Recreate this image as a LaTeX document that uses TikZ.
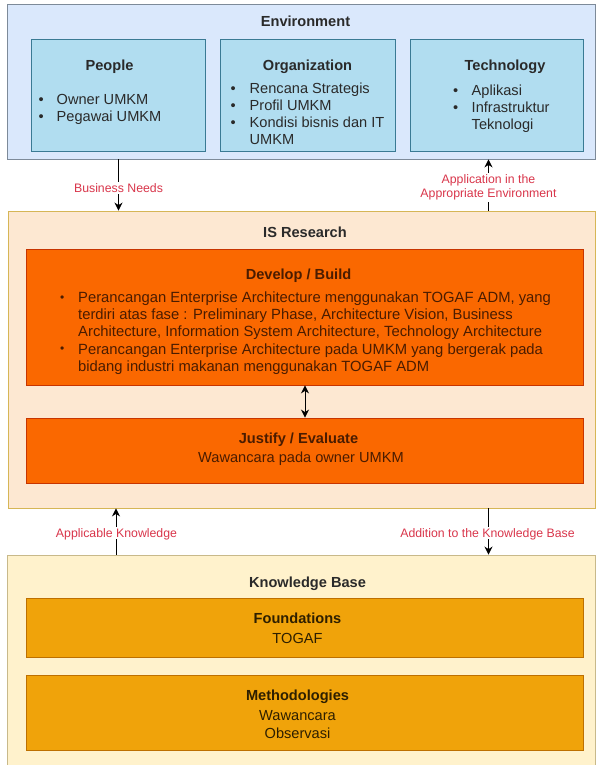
\documentclass[tikz,border=0pt]{standalone}
\usepackage{fontspec}
\setmainfont{Liberation Sans}
\usetikzlibrary{arrows.meta}
\definecolor{envfill}{HTML}{DAE8FC}
\definecolor{envdraw}{HTML}{7D8A99}
\definecolor{subfill}{HTML}{B1DDF0}
\definecolor{subdraw}{HTML}{3A7A94}
\definecolor{isfill}{HTML}{FDE8D2}
\definecolor{isdraw}{HTML}{D6B656}
\definecolor{devfill}{HTML}{FA6800}
\definecolor{devdraw}{HTML}{C73500}
\definecolor{devtext}{HTML}{4A1C00}
\definecolor{kbfill}{HTML}{FFF2CC}
\definecolor{kbdraw}{HTML}{C8B98A}
\definecolor{fndfill}{HTML}{F0A30A}
\definecolor{fnddraw}{HTML}{BD7000}
\definecolor{fndtext}{HTML}{2E1F00}
\definecolor{lblred}{HTML}{D9364B}
\definecolor{bodytext}{HTML}{2A2A2A}
\newcommand\bodyfont{\fontsize{14.6}{17}\selectfont}
\newcommand\devbul{\makebox[18pt][l]{\raisebox{1.2pt}{\fontsize{12}{12}\selectfont •}}}
\begin{document}
\begin{tikzpicture}[x=1pt,y=-1pt,
  box/.style={draw, line width=0.9pt, inner sep=0pt, rectangle},
  envbox/.style={box, fill=envfill, draw=envdraw},
  subbox/.style={box, fill=subfill, draw=subdraw},
  isbox/.style={box, fill=isfill, draw=isdraw},
  devbox/.style={box, fill=devfill, draw=devdraw},
  kbbox/.style={box, fill=kbfill, draw=kbdraw},
  fndbox/.style={box, fill=fndfill, draw=fnddraw},
  ttl/.style={inner sep=0pt, font=\bfseries\bodyfont, text height=10.5pt, text depth=0pt},
  txt/.style={inner sep=0pt, font=\bodyfont, text height=10.5pt, text depth=0pt},
  lst/.style={inner sep=0pt, font=\bodyfont, align=left, anchor=north west, text=bodytext},
  lbl/.style={inner sep=1.5pt, fill=white, text=lblred, font=\fontsize{12.3}{14}\selectfont},
  arr/.style={draw=black, line width=0.9pt, -{Stealth[length=8pt,width=8pt]}},
  arrtwo/.style={draw=black, line width=0.9pt, {Stealth[length=8pt,width=8pt]}-{Stealth[length=8pt,width=8pt]}}
]
\useasboundingbox (0,0) rectangle (596,765);
\fill[white] (0,0) rectangle (596,765);

% Environment
\node[envbox, minimum width=588pt, minimum height=155pt] (env) at (301,81.5) {};
\node[subbox, minimum width=173.5pt, minimum height=112pt] (people) at (118.25,95) {};
\node[subbox, minimum width=175pt, minimum height=112pt] (org) at (307.5,95) {};
\node[subbox, minimum width=173pt, minimum height=112pt] (tech) at (496.5,95) {};
\node[ttl, text=bodytext] (envt) at (305.5,21.5) {Environment};
\node[ttl, text=bodytext] (peot) at (109.5,65) {People};
\node[ttl, text=bodytext] (orgt) at (307.5,65) {Organization};
\node[ttl, text=bodytext] (techt) at (505,65) {Technology};
\node[lst] (peol) at (38.5,93.8) {\makebox[18pt][l]{•}Owner UMKM\\\makebox[18pt][l]{•}Pegawai UMKM};
\node[lst] (orgl) at (230.5,82.6) {\makebox[19pt][l]{•}Rencana Strategis\\\makebox[19pt][l]{•}Profil UMKM\\\makebox[19pt][l]{•}Kondisi bisnis dan IT\\\hspace*{19pt}UMKM};
\node[lst] (techl) at (453,84.6) {\makebox[18.5pt][l]{•}Aplikasi\\\makebox[18.5pt][l]{•}Infrastruktur\\\hspace*{18.5pt}Teknologi};

% IS Research
\node[isbox, minimum width=587pt, minimum height=297pt] (isr) at (301.5,359.5) {};
\node[devbox, minimum width=557pt, minimum height=136pt] (dev) at (304.5,317) {};
\node[devbox, minimum width=557pt, minimum height=65pt] (jus) at (304.5,450.5) {};
\node[ttl, text=bodytext] (isrt) at (305,232) {IS Research};
\node[ttl, text=devtext] (devt) at (298.5,274) {Develop / Build};
\node[lst, text=devtext, font=\fontsize{14.8}{17.2}\selectfont] (devl) at (60,291.6) {\devbul Perancangan Enterprise Architecture menggunakan TOGAF ADM, yang\\\hspace*{18pt}terdiri atas fase : Preliminary Phase, Architecture Vision, Business\\\hspace*{18pt}Architecture, Information System Architecture, Technology Architecture\\\devbul Perancangan Enterprise Architecture pada UMKM yang bergerak pada\\\hspace*{18pt}bidang industri makanan menggunakan TOGAF ADM};
\node[ttl, text=devtext] (just) at (298.5,438) {Justify / Evaluate};
\node[txt, text=devtext] (jusl) at (301,457.5) {Wawancara pada owner UMKM};

% Knowledge Base
\node[kbbox, minimum width=588pt, minimum height=215pt] (kb) at (301,662.5) {};
\node[fndbox, minimum width=557pt, minimum height=59pt] (fnd) at (304.5,627.5) {};
\node[fndbox, minimum width=557pt, minimum height=75pt] (met) at (304.5,712.5) {};
\node[ttl, text=bodytext] (kbt) at (307.5,582) {Knowledge Base};
\node[ttl, text=fndtext] (fndt) at (297.5,618) {Foundations};
\node[txt, text=fndtext] (fndl) at (297.5,638) {TOGAF};
\node[ttl, text=fndtext] (mett) at (297.5,695) {Methodologies};
\node[txt, text=fndtext] (metl1) at (297.5,715) {Wawancara};
\node[txt, text=fndtext] (metl2) at (297.5,733) {Observasi};

% connectors
\coordinate (xa) at (118.5,0);
\coordinate (xb) at (488.5,0);
\coordinate (xc) at (305,0);
\coordinate (xd) at (116,0);
\draw[arr] (xa |- env.south) -- (xa |- isr.north);
\draw[arr] (xb |- isr.north) -- (xb |- env.south);
\draw[arrtwo] (xc |- dev.south) -- (xc |- jus.north);
\draw[arr] (xd |- kb.north) -- (xd |- isr.south);
\draw[arr] (xb |- isr.south) -- (xb |- kb.north);
\node[lbl, text height=8.8pt, text depth=0pt] (lbn) at (118.5,188) {Business Needs};
\node[lbl, align=center] (lap) at (488.5,187.5) {Application in the\\Appropriate Environment};
\node[lbl, text height=8.8pt, text depth=0pt] (lak) at (116.5,533) {Applicable Knowledge};
\node[lbl, text height=8.8pt, text depth=0pt] (lad) at (487.5,533) {Addition to the Knowledge Base};
\end{tikzpicture}
\end{document}
